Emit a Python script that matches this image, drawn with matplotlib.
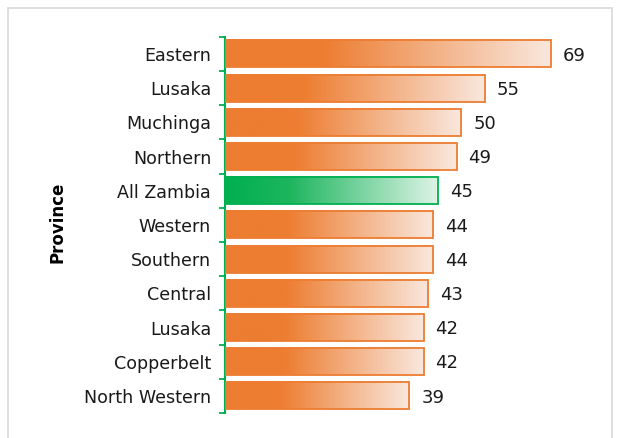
import numpy as np
import matplotlib.pyplot as plt
from matplotlib.colors import LinearSegmentedColormap
from matplotlib.patches import Rectangle

provinces = ['Eastern', 'Lusaka', 'Muchinga', 'Northern', 'All Zambia', 'Western',
             'Southern', 'Central', 'Lusaka', 'Copperbelt', 'North Western']
values = [69, 55, 50, 49, 45, 44, 44, 43, 42, 42, 39]

orange = '#ED7D31'
green = '#00B050'
cm_orange = LinearSegmentedColormap.from_list('o', [(0, orange), (0.3, orange), (1, '#F9E8DE')])
cm_green = LinearSegmentedColormap.from_list('g', [(0, green), (0.3, '#1DB55E'), (1, '#DDF3E6')])

fig = plt.figure(figsize=(6.2, 4.38), dpi=100)
fig.patches.append(Rectangle((8 / 620, -0.01), 604 / 620, 1 - 8 / 438 + 0.01,
                             transform=fig.transFigure, fill=False,
                             edgecolor='#D9D9D9', linewidth=1.2))
ax = fig.add_axes([0.363, 0.057, 0.61, 0.859])

n = len(provinces)
ys = np.arange(n)
h = 0.79
grad = np.linspace(0, 1, 256).reshape(1, -1)
for y, v, name in zip(ys, values, provinces):
    cmap = cm_green if name == 'All Zambia' else cm_orange
    edge = green if name == 'All Zambia' else orange
    ax.imshow(grad, cmap=cmap, aspect='auto', extent=(0, v, y + h / 2, y - h / 2),
              zorder=2, interpolation='bicubic')
    ax.add_patch(Rectangle((0, y - h / 2), v, h, fill=False, edgecolor=edge,
                           linewidth=1.3, zorder=3))
    ax.text(v + 2.5, y + 0.05, str(v), va='center', ha='left', fontsize=13, color='#1a1a1a')

ax.set_xlim(0, 80)
ax.set_ylim(n - 0.5, -0.5)
ax.set_yticks(ys)
ax.set_yticklabels(provinces, fontsize=12.6, color='#1a1a1a')
ax.set_yticks(np.arange(n + 1) - 0.5, minor=True)
ax.tick_params(axis='y', which='major', length=0, pad=10)
ax.tick_params(axis='y', which='minor', length=4, color=green, width=1.3)
ax.set_xticks([])
for s in ['top', 'right', 'bottom']:
    ax.spines[s].set_visible(False)
ax.spines['left'].set_color(green)
ax.spines['left'].set_linewidth(1.5)
fig.text(58 / 620, 1 - 222 / 438, 'Province', rotation=90, ha='center', va='center',
         fontsize=12, fontweight='bold')

fig.savefig('out.png', dpi=100)
